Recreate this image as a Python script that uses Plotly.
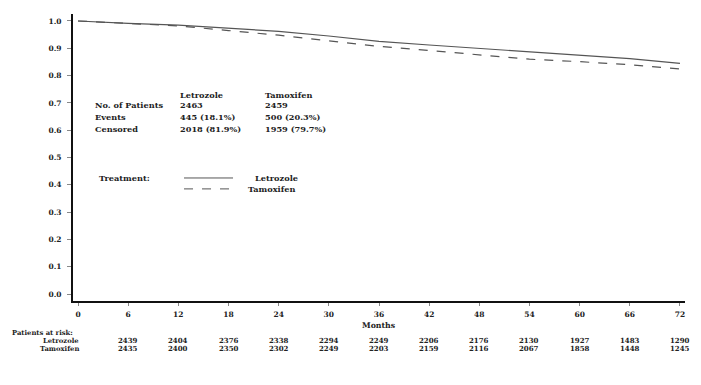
import plotly.graph_objects as go

months = [0, 6, 12, 18, 24, 30, 36, 42, 48, 54, 60, 66, 72]
letrozole = [1.0, 0.991, 0.985, 0.973, 0.962, 0.945, 0.925, 0.912, 0.900, 0.887, 0.875, 0.862, 0.845]
tamoxifen = [1.0, 0.990, 0.982, 0.965, 0.948, 0.927, 0.907, 0.892, 0.876, 0.860, 0.851, 0.840, 0.824]

risk_months = [6, 12, 18, 24, 30, 36, 42, 48, 54, 60, 66, 72]
risk_letrozole = [2439, 2404, 2376, 2338, 2294, 2249, 2206, 2176, 2130, 1927, 1483, 1290]
risk_tamoxifen = [2435, 2400, 2350, 2302, 2249, 2203, 2159, 2116, 2067, 1858, 1448, 1245]

x_ticks = list(range(0, 73, 6))
y_ticks = [i / 10 for i in range(0, 11)]

table_cols = ["Letrozole", "Tamoxifen"]
table_rows = ["No. of Patients", "Events", "Censored"]
table_vals = [["2463", "2459"], ["445 (18.1%)", "500 (20.3%)"], ["2018 (81.9%)", "1959 (79.7%)"]]

FONT = "DejaVu Serif"
TXT = "#222222"
LINE = "#555555"

fig = go.Figure()
fig.add_trace(go.Scatter(x=months, y=letrozole, mode="lines", name="Letrozole",
                         line=dict(color=LINE, width=1.2)))
fig.add_trace(go.Scatter(x=months, y=tamoxifen, mode="lines", name="Tamoxifen",
                         line=dict(color=LINE, width=1.2, dash="dash")))

ann = []
TF = dict(size=8.2)
# summary table
col_x = [11.96, 22.1]
row_y = [0.692, 0.648, 0.604]
for cx, c in zip(col_x, table_cols):
    ann.append(dict(x=cx, y=0.729, xref="x", yref="y", text="<b>" + c + "</b>",
                    showarrow=False, xanchor="left", yanchor="middle", font=TF))
for ry, r, vals in zip(row_y, table_rows, table_vals):
    ann.append(dict(x=1.79, y=ry, xref="x", yref="y", text="<b>" + r + "</b>",
                    showarrow=False, xanchor="left", yanchor="middle", font=TF))
    for cx, v in zip(col_x, vals):
        ann.append(dict(x=cx, y=ry, xref="x", yref="y", text="<b>" + v + "</b>",
                        showarrow=False, xanchor="left", yanchor="middle", font=TF))
# legend
ann.append(dict(x=2.27, y=0.425, xref="x", yref="y", text="<b>Treatment:</b>",
                showarrow=False, xanchor="left", yanchor="middle", font=TF))
ann.append(dict(x=20.9, y=0.425, xref="x", yref="y", text="<b>Letrozole</b>",
                showarrow=False, xanchor="left", yanchor="middle", font=TF))
ann.append(dict(x=20.1, y=0.385, xref="x", yref="y", text="<b>Tamoxifen</b>",
                showarrow=False, xanchor="left", yanchor="middle", font=TF))

# x-axis title and risk table
RF = dict(size=7)
LF = dict(size=6.8)
ann.append(dict(x=36, y=-0.087, xref="x", yref="paper", text="<b>Months</b>",
                showarrow=False, xanchor="center", yanchor="middle", font=dict(size=7.8)))
ann.append(dict(x=-63 / 612, y=-0.111, xref="paper", yref="paper", text="<b>Patients at risk:</b>",
                showarrow=False, xanchor="left", yanchor="middle", font=LF))
ann.append(dict(x=0, y=-0.139, xref="x", yref="paper", text="<b>Letrozole</b>",
                showarrow=False, xanchor="right", yanchor="middle", font=LF, xshift=3))
ann.append(dict(x=0, y=-0.167, xref="x", yref="paper", text="<b>Tamoxifen</b>",
                showarrow=False, xanchor="right", yanchor="middle", font=LF, xshift=3))
for m, a, b in zip(risk_months, risk_letrozole, risk_tamoxifen):
    ann.append(dict(x=m, y=-0.139, xref="x", yref="paper", text="<b>%d</b>" % a,
                    showarrow=False, xanchor="center", yanchor="middle", font=RF))
    ann.append(dict(x=m, y=-0.167, xref="x", yref="paper", text="<b>%d</b>" % b,
                    showarrow=False, xanchor="center", yanchor="middle", font=RF))

shapes = [
    dict(type="line", xref="x", yref="y", x0=12.68, x1=18.54, y0=0.425, y1=0.425,
         line=dict(color=LINE, width=1)),
    dict(type="line", xref="x", yref="y", x0=12.68, x1=18.54, y0=0.385, y1=0.385,
         line=dict(color=LINE, width=1, dash="dash")),
]

fig.update_layout(
    width=701, height=385,
    margin=dict(l=73, r=16, t=14, b=84),
    paper_bgcolor="white", plot_bgcolor="white",
    showlegend=False,
    font=dict(family=FONT, size=8, color=TXT),
    annotations=ann, shapes=shapes,
    xaxis=dict(range=[-0.6, 72.6], tickvals=x_ticks, ticktext=["<b>%d</b>" % t for t in x_ticks],
               showgrid=False, zeroline=False, showline=True, linecolor="#111", linewidth=2,
               ticks="outside", ticklen=3, tickcolor="#888", tickfont=dict(size=7.5),
               ticklabelstandoff=2),
    yaxis=dict(range=[-0.0256, 1.0256], tickvals=y_ticks,
               ticktext=["<b>%.1f</b>" % t for t in y_ticks],
               showgrid=False, zeroline=False, showline=True, linecolor="#111", linewidth=2,
               ticks="outside", ticklen=4, tickcolor="#888", tickfont=dict(size=7.5),
               ticklabelstandoff=4),
)

fig.write_html("out.html", config={"displayModeBar": False},
               post_script="document.body.style.margin='0px';")
